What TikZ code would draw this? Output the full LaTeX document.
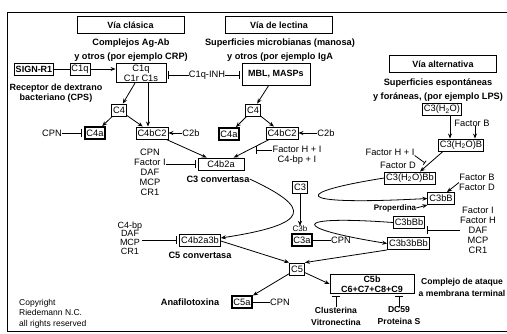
\documentclass[tikz,border=0pt]{standalone}
\usepackage{fontspec}
\setmainfont{Liberation Sans}
\usetikzlibrary{positioning, calc, arrows.meta}

\begin{document}
\begin{tikzpicture}[x=1pt,y=-1pt,
    font=\fontsize{9.3}{10}\selectfont,
    box/.style={draw,line width=0.9pt,inner sep=1.5pt,minimum height=12pt},
    darkbox/.style={box,line width=1.8pt},
    viabox/.style={draw,line width=1pt,minimum width=107pt,minimum height=17pt,
        font=\bfseries\fontsize{9}{11}\selectfont},
    hd/.style={font=\bfseries\fontsize{9.2}{14}\selectfont,align=center,inner sep=0pt},
    lbl/.style={inner sep=0pt,align=center},
    act/.style={-{Stealth[length=5pt,width=4pt]},line width=0.8pt},
    inh/.style={-{Bar[width=8pt]},line width=0.8pt,shorten >=2pt}]
    \useasboundingbox (0,0) rectangle (507,333);
    \draw[line width=1pt] (512,12) -- (7,12) -- (7,331) -- (512,331);

    % cabeceras
    \node[viabox] (clasica) at (130.5,25) {Vía clásica};
    \node[viabox] (lectina) at (279,25) {Vía de lectina};
    \node[viabox] (alterna) at (443,64) {Vía alternativa};
    \node[hd] (agab) at (131,50) {Complejos Ag-Ab\\y otros (por ejemplo CRP)};
    \node[hd] (manosa) at (280,50) {Superficies microbianas (manosa)\\y otros (por ejemplo IgA};
    \node[hd] (lps) at (438,90.5) {Superficies espontáneas\\y foráneas, (por ejemplo LPS)};

    % via clasica y lectina
    \node[box,font=\bfseries\fontsize{9}{10}\selectfont] (signr1) at (34,69) {SIGN-R1};
    \node[box] (c1q) at (80,69) {C1q};
    \node[box,align=center,minimum width=50pt] (c1) at (141,73) {C1q\\C1r C1s};
    \node[hd,font=\bfseries\fontsize{9}{10}\selectfont] (dextrano) at (56,93) {Receptor de dextrano\\bacteriano (CPS)};
    \node[lbl] (c1qinh) at (207,75) {C1q-INH};
    \node[box,font=\bfseries\fontsize{9}{10}\selectfont,minimum width=68pt,minimum height=22pt] (mbl) at (276,74) {MBL, MASPs};
    \node[box] (c4l) at (119,110) {C4};
    \node[darkbox] (c4al) at (95,133) {C4a};
    \node[lbl] (cpnl) at (52,133) {CPN};
    \node[box] (c4bc2l) at (152,133) {C4bC2};
    \node[lbl] (c2bl) at (191,133) {C2b};
    \node[box] (c4r) at (253,110) {C4};
    \node[darkbox] (c4ar) at (229,134) {C4a};
    \node[box] (c4bc2r) at (282,133) {C4bC2};
    \node[lbl] (c2br) at (326,133) {C2b};
    \node[box,minimum width=46pt] (c4b2a) at (221,164) {C4b2a};
    \node[hd] (c3conv) at (218,179) {C3 convertasa};
    \node[lbl] (inha) at (150,172) {CPN\\Factor I\\DAF\\MCP\\CR1};
    \node[lbl] (inhb) at (297,155) {Factor H + I\\C4-bp + I};
    \coordinate (barb) at (256,150);

    % C3 y C5
    \node[box] (c3) at (300,187) {C3};
    \node[lbl,font=\fontsize{8}{9}\selectfont] (c3b) at (300,229) {C3b};
    \node[darkbox] (c3a) at (302,240) {C3a};
    \node[lbl] (cpnc3) at (341,240) {CPN};
    \node[box] (c4b2a3b) at (200,240) {C4b2a3b};
    \node[hd] (c5conv) at (200,255) {C5 convertasa};
    \node[lbl,font=\fontsize{9}{8.8}\selectfont] (inhc) at (130,238) {C4-bp\\DAF\\MCP\\CR1};
    \node[box] (c5) at (297,269) {C5};
    \node[darkbox] (c5a) at (242,302) {C5a};
    \node[lbl] (cpnc5) at (280,302) {CPN};
    \node[hd] (anafi) at (190,302) {Anafilotoxina};
    \node[box,font=\bfseries\fontsize{9}{10}\selectfont,align=center,minimum width=84pt] (c5b) at (372,284) {C5b\\C6+C7+C8+C9};
    \node[hd,font=\bfseries\fontsize{8.6}{12}\selectfont] (mac) at (462,287) {Complejo de ataque\\a membrana terminal};
    \node[hd,font=\bfseries\fontsize{8.6}{12}\selectfont] (clus) at (336,316) {Clusterina\\Vitronectina};
    \node[hd,font=\bfseries\fontsize{8.6}{12}\selectfont] (cd59) at (399,316) {DC59\\Proteina S};

    % via alternativa
    \node[box] (c3h2o) at (442,109.5) {C3(H\textsubscript{2}O)};
    \node[lbl] (factb) at (472,123) {Factor B};
    \node[box] (c3h2ob) at (461,145) {C3(H\textsubscript{2}O)B};
    \node[lbl] (facthi) at (390,152) {Factor H + I};
    \coordinate (barhi) at (425,163);
    \node[lbl] (factd) at (398,165) {Factor D};
    \node[box] (c3h2obb) at (410,178) {C3(H\textsubscript{2}O)Bb};
    \node[box] (c3bb) at (441,198.5) {C3bB};
    \node[lbl] (factbd) at (477,182.5) {Factor B\\Factor D};
    \node[lbl,font=\bfseries\fontsize{8}{9}\selectfont] (properdina) at (395,208) {Properdina};
    \node[box] (c3bbb) at (409,222.5) {C3bBb};
    \node[box] (c3b3bbb) at (408.5,243.5) {C3b3bBb};
    \node[lbl] (inhd) at (478,230) {Factor I\\Factor H\\DAF\\MCP\\CR1};

    \node[lbl,align=left,anchor=north west,font=\fontsize{8.5}{10.5}\selectfont] (copy) at (19,299) {Copyright\\Riedemann N.C.\\all rights reserved};

    % conexiones
    \draw[line width=0.8pt] (signr1) -- (c1q);
    \draw[act] (c1q) -- (c1.west |- c1q);
    \draw[inh] (c1qinh) -- (c1.east |- c1qinh);
    \draw[inh] (c1qinh) -- (mbl.west |- c1qinh);
    \draw[act] (c1) -- (c4l);
    \draw[act] ([xshift=7pt]c1.south) -- ([xshift=7pt]c1.south |- c4bc2l.north);
    \draw[act] (c4l) -- (c4al);
    \draw[act] (c4l) -- (c4bc2l);
    \draw[inh] (cpnl) -- (c4al);
    \draw[act] (c2bl) -- (c4bc2l);
    \draw[act] (mbl) -- (c4r);
    \draw[act] (c4r) -- (c4ar);
    \draw[act] (c4r) -- (c4bc2r);
    \draw[act] (c2br) -- (c4bc2r);
    \draw[act] (c4bc2l) -- (c4b2a);
    \draw[act] (c4bc2r) -- (c4b2a);
    \draw[inh] (inha.east |- c4b2a) -- (c4b2a);
    \draw[inh,shorten >=0pt] (inhb.west |- barb) -- (barb);
    \draw[act] (c3) -- (c3b);
    \draw[line width=0.8pt] (c3a) -- (cpnc3);
    \draw[act] (c3conv.east) .. controls (312,208) and (312,224) .. ([yshift=2pt]c4b2a3b.east);
    \draw[inh] (inhc.east |- c4b2a3b) -- (c4b2a3b);
    \draw[act] ([yshift=-1pt]c4b2a3b.east) -- (c5.north west);
    \draw[act] (c3b3bbb.south west) -- (c5.north east);
    \draw[act] (c5) -- (c5a);
    \draw[act] (c5) -- (c5b.west);
    \draw[line width=0.8pt] (c5a) -- (cpnc5);
    \draw[inh] (clus) -- (clus |- c5b.south);
    \draw[inh] (cd59) -- (cd59 |- c5b.south);

    \draw[act] ([xshift=8pt]c3h2o.south) -- ([xshift=8pt]c3h2o.south |- c3h2ob.north);
    \draw[act] ([xshift=3pt]factb.south) -- ([xshift=3pt]factb.south |- c3h2ob.north);
    \draw[act] ([xshift=-18pt]c3h2ob.south) -- ([xshift=10pt]c3h2obb.north);
    \draw[inh,-{Bar[width=5pt]},shorten >=0pt] (facthi.south east) -- (barhi);
    \draw[act] (factbd.west) -- ([xshift=6pt]c3bb.north);
    \draw[act] (properdina.east) -- (c3bb.south west);
    \draw[act] (c3h2obb.west) .. controls (295,192) and (285,206) .. (c3bb.west);
    \draw[act] (c3bbb.west) .. controls (290,215) and (290,228) .. (c3b3bbb.west);
    \draw[inh] (inhd.west) -- (c3bbb.east |- inhd.west);
\end{tikzpicture}
\end{document}
